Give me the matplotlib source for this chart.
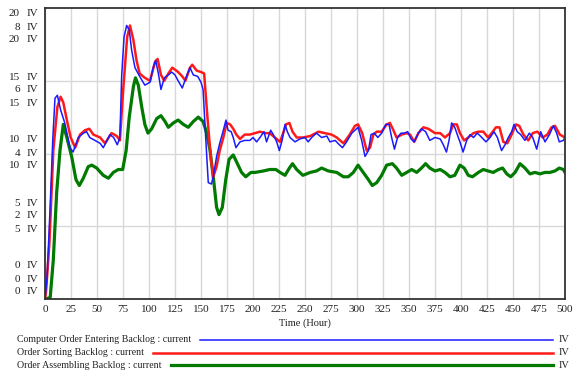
import matplotlib
matplotlib.use("Agg")
import matplotlib.pyplot as plt
from matplotlib.lines import Line2D

# ---------------- data ----------------
blue_t = [0, 2, 4.8, 7.5, 9.6, 11.9, 15, 19, 24, 27, 32, 37, 40, 43, 48, 53, 56, 59, 62.5, 66, 69.5, 72,
          73.7, 76, 78.5, 81, 83.3, 86.5, 91, 96, 101, 104, 106.4, 109, 111.5, 114.7, 118.6, 121.8, 125,
          128, 132, 136, 139.4, 142.6, 146.8, 150, 152, 154.5, 157, 160, 161.8, 165, 168, 171.5, 174,
          176, 179, 181, 183.6, 187.5, 192, 197, 200, 203.5, 206.7, 210.6, 213, 217, 219.5, 222.8,
          225.3, 228, 230.8, 233, 235.6, 240.4, 245, 250, 253, 256.4, 261, 266, 271, 274, 279, 283,
          286, 290, 295, 298, 301, 304.5, 307.7, 311, 313.5, 316.6, 320, 323.7, 327.6, 330.8, 333.3,
          336, 339, 342.3, 345.5, 348.7, 352, 355, 359, 362, 366, 370, 375, 380, 383, 386, 388.5, 391,
          394, 397.4, 399, 402, 405.5, 408.7, 412, 415.7, 420, 424, 428, 431.7, 435, 439, 442.3, 445.5,
          448.7, 451, 454, 457.4, 461.5, 465.7, 469, 472.8, 476.6, 480.8, 485, 488.8, 492, 494.5,
          498.4, 500]
blue_v = [0, 1.5, 6.1, 11.0, 13.8, 14.0, 13.0, 12.1, 10.4, 10.1, 11.1, 11.4, 11.5, 11.1, 10.9, 10.7,
          10.4, 10.8, 11.3, 11.1, 10.6, 11.1, 15.3, 18.0, 18.8, 18.5, 17.1, 15.9, 15.3, 14.7, 14.9,
          15.9, 16.4, 15.5, 14.4, 15.2, 15.4, 15.6, 15.4, 15.0, 14.5, 15.3, 15.9, 15.4, 15.3, 14.9,
          14.4, 11.1, 8.0, 7.9, 8.4, 9.8, 10.7, 11.6, 12.3, 11.6, 11.5, 11.1, 10.4, 10.8, 10.9, 10.9,
          11.1, 10.8, 11.1, 11.5, 10.8, 11.6, 11.3, 10.8, 10.2, 10.9, 12.0, 11.5, 11.1, 10.8, 11.0,
          11.1, 10.8, 11.1, 11.4, 11.1, 11.2, 10.8, 10.9, 10.6, 10.4, 10.8, 11.4, 11.6, 11.8, 10.9,
          9.8, 10.2, 11.3, 11.4, 11.1, 11.4, 12.0, 12.0, 11.1, 10.3, 11.1, 11.4, 11.4, 11.5, 11.0,
          10.8, 11.4, 11.7, 11.5, 10.9, 11.1, 11.0, 10.6, 10.1, 10.9, 12.1, 11.8, 11.1, 10.8, 10.1,
          10.9, 11.3, 11.1, 11.4, 11.1, 10.8, 11.1, 11.5, 11.1, 10.2, 10.6, 11.1, 11.5, 12.0, 11.5,
          11.3, 10.9, 11.4, 11.1, 10.3, 11.5, 10.8, 11.3, 11.9, 11.4, 10.8, 10.9, 11.1]

red_t = [0, 1, 4.2, 8, 11.9, 15, 17.6, 21, 24.7, 29, 33.7, 38.5, 42.6, 46.5, 53, 57.7, 64, 69, 72, 75,
         79, 81.7, 85, 88, 91, 96, 101, 105.8, 108.3, 111.5, 114.7, 118.6, 122.4, 128, 132, 135,
         139.4, 141.6, 145.8, 150, 153, 156.4, 159.6, 161.8, 165, 168, 171.5, 174.7, 178, 181, 184,
         187.5, 192, 197, 202, 206.7, 211.5, 216, 221, 226, 229, 231.7, 235, 238, 242, 248, 255, 263,
         269, 275.6, 280.5, 287, 293, 298, 301, 305, 309.3, 312.5, 315.7, 319, 323.7, 328.5, 331.7,
         335, 338, 343, 347.8, 351, 355, 359, 363.8, 368.6, 375, 380, 384.6, 389.4, 392.6, 396, 399,
         403, 407, 412, 416.7, 421.4, 426, 429.5, 433.6, 437, 440.7, 444.5, 448.7, 452.9, 456, 460,
         464.7, 469, 473.4, 478.6, 483, 487, 490.4, 495, 500]
red_v = [0, 0.5, 3.8, 10.2, 13.2, 13.9, 13.5, 12.3, 11.1, 10.4, 11.3, 11.6, 11.7, 11.3, 11.1, 10.7,
         11.4, 11.2, 10.9, 14.2, 18.0, 18.8, 17.8, 16.4, 15.5, 15.2, 15.0, 16.3, 16.5, 15.4, 15.0,
         15.5, 15.9, 15.6, 15.3, 15.0, 15.9, 16.1, 15.7, 15.6, 15.5, 12.3, 9.6, 8.4, 9.1, 10.2, 11.1,
         12.1, 12.0, 11.7, 11.3, 11.0, 11.3, 11.3, 11.4, 11.5, 11.4, 11.4, 11.1, 10.8, 11.4, 12.0,
         12.1, 11.5, 11.1, 11.1, 11.2, 11.5, 11.4, 11.3, 11.1, 10.7, 11.3, 11.9, 12.0, 11.4, 10.2,
         10.4, 11.3, 11.5, 11.5, 12.0, 12.1, 11.6, 11.1, 11.3, 11.4, 11.3, 10.8, 11.4, 11.8, 11.7,
         11.4, 11.4, 11.1, 11.4, 12.0, 12.0, 11.4, 10.9, 11.1, 11.4, 11.5, 11.5, 11.1, 11.4, 11.8,
         11.8, 10.8, 10.7, 11.3, 12.0, 11.9, 11.3, 10.9, 11.4, 11.5, 11.1, 11.3, 11.8, 11.9, 11.3,
         11.1]

green_t = [0, 5, 8, 11.2, 14.4, 17.6, 21, 25.6, 29.8, 33, 36.8, 41.6, 45, 49.7, 56, 61, 65.7, 70.5,
           74.7, 78, 81, 85, 87, 89.7, 93, 96, 99, 102.6, 107.4, 111.5, 115.4, 118.6, 123.4, 128, 133,
           137.8, 142.6, 147.4, 152, 155.5, 158.7, 161.8, 165, 167.3, 170.5, 173.8, 177, 181, 185,
           189, 193, 198, 202, 210, 216, 222, 226, 230.8, 235, 238, 242, 248, 255, 261, 266, 272.4,
           280.5, 287, 291.6, 296.5, 301, 306, 311, 314.7, 319, 323.7, 328.5, 334, 338, 343, 347.8,
           352.6, 357.4, 362, 366, 370, 375, 380, 384.6, 389.4, 394, 399, 403, 407, 411, 416.7, 421.4,
           426, 431, 436, 440, 444, 447.8, 452, 456.7, 461.5, 466.3, 471, 476, 480.8, 485.6, 490.4,
           494.5, 498.4, 500]
green_v = [0, 0.1, 2.7, 7.3, 10.2, 12.0, 11.1, 9.8, 8.2, 7.8, 8.3, 9.1, 9.2, 9.0, 8.5, 8.3, 8.7, 8.9,
           8.9, 10.2, 12.5, 14.6, 15.2, 14.7, 13.2, 12.0, 11.4, 11.7, 12.4, 12.6, 12.2, 11.8, 12.1,
           12.3, 12.0, 11.8, 12.2, 12.5, 12.2, 11.4, 10.2, 8.4, 6.3, 5.8, 6.3, 8.2, 9.6, 9.9, 9.3, 8.7,
           8.4, 8.7, 8.7, 8.8, 8.9, 8.9, 8.7, 8.5, 9.0, 9.3, 8.9, 8.5, 8.7, 8.8, 9.0, 8.8, 8.7, 8.4,
           8.4, 8.7, 9.2, 8.7, 8.2, 7.8, 8.0, 8.5, 9.2, 9.3, 9.0, 8.5, 8.7, 8.9, 8.7, 9.0, 9.3, 9.0,
           8.8, 8.9, 8.7, 8.4, 8.5, 9.2, 9.0, 8.5, 8.4, 8.7, 8.9, 8.8, 8.7, 8.9, 9.0, 8.6, 8.4, 8.7,
           9.3, 9.0, 8.6, 8.7, 8.6, 8.7, 8.7, 8.8, 9.0, 8.9, 8.7]

x_ticks = list(range(0, 501, 25))
y_label_groups = [["20", "8", "20"], ["15", "6", "15"], ["10", "4", "10"],
                  ["5", "2", "5"], ["0", "0", "0"]]
unit = "IV"
x_label = "Time (Hour)"
series_names = ["Computer Order Entering Backlog : current",
                "Order Sorting Backlog : current",
                "Order Assembling Backlog : current"]
colors = ["#1a1aff", "#ff1a1a", "#007a00"]
widths = [1.1, 1.8, 2.3]

# ---------------- layout ----------------
W, H = 579, 378
fig = plt.figure(figsize=(W / 100, H / 100), dpi=100)
fig.patch.set_facecolor("white")
SERIF = ["Liberation Serif", "DejaVu Serif"]
TXT = "#222222"

L, R, T, B = 45, 565, 8, 299
ax = fig.add_axes([L / W, 1 - B / H, (R - L) / W, (B - T) / H])
ax.set_xlim(0, 500)
ax.set_ylim(0, 20)
ax.set_xticks(x_ticks)
ax.set_xticklabels([str(x) for x in x_ticks], fontfamily=SERIF, fontsize=8, color=TXT)
ax.set_yticks([5, 10, 15])
ax.set_yticklabels([])
ax.tick_params(length=0, pad=4)
ax.grid(True, color="#d8d8d8", lw=1.0)
ax.set_axisbelow(True)
for s in ax.spines.values():
    s.set_color("#333333")
    s.set_linewidth(1.3)

ax.plot(green_t, green_v, color=colors[2], lw=widths[2], solid_joinstyle="round")
ax.plot(red_t, red_v, color=colors[1], lw=widths[1], solid_joinstyle="round")
ax.plot(blue_t, blue_v, color=colors[0], lw=widths[0], solid_joinstyle="round")

def fx(px):
    return px / W

def fy(py):
    return 1 - py / H

# y labels (stacked multi-scale)
for i, grp in enumerate(y_label_groups):
    mid = 27 + i * 63
    for j, lab in enumerate(grp):
        py = mid + (j - 1) * 13
        fig.text(fx(20), fy(py), lab, ha="right", va="center", fontfamily=SERIF,
                 fontsize=8, color=TXT)
        fig.text(fx(27), fy(py), unit, ha="left", va="center", fontfamily=SERIF,
                 fontsize=8, color=TXT)

fig.text(fx(305), fy(323), x_label, ha="center", va="center", fontfamily=SERIF,
         fontsize=7.5, color=TXT)

# legend
fig.canvas.draw()
renderer = fig.canvas.get_renderer()
for k, name in enumerate(series_names):
    py = 340 + k * 12.5
    t = fig.text(fx(17), fy(py), name, ha="left", va="center", fontfamily=SERIF,
                 fontsize=7.1, color=TXT)
    bb = t.get_window_extent(renderer=renderer)
    x0 = bb.x1 + 9
    fig.add_artist(Line2D([x0 / W, 553 / W], [fy(py), fy(py)], transform=fig.transFigure,
                          color=colors[k], lw=widths[k]))
    fig.text(fx(559), fy(py), unit, ha="left", va="center", fontfamily=SERIF,
             fontsize=7.5, color=TXT)

fig.savefig("out.png", dpi=100, facecolor="white")
